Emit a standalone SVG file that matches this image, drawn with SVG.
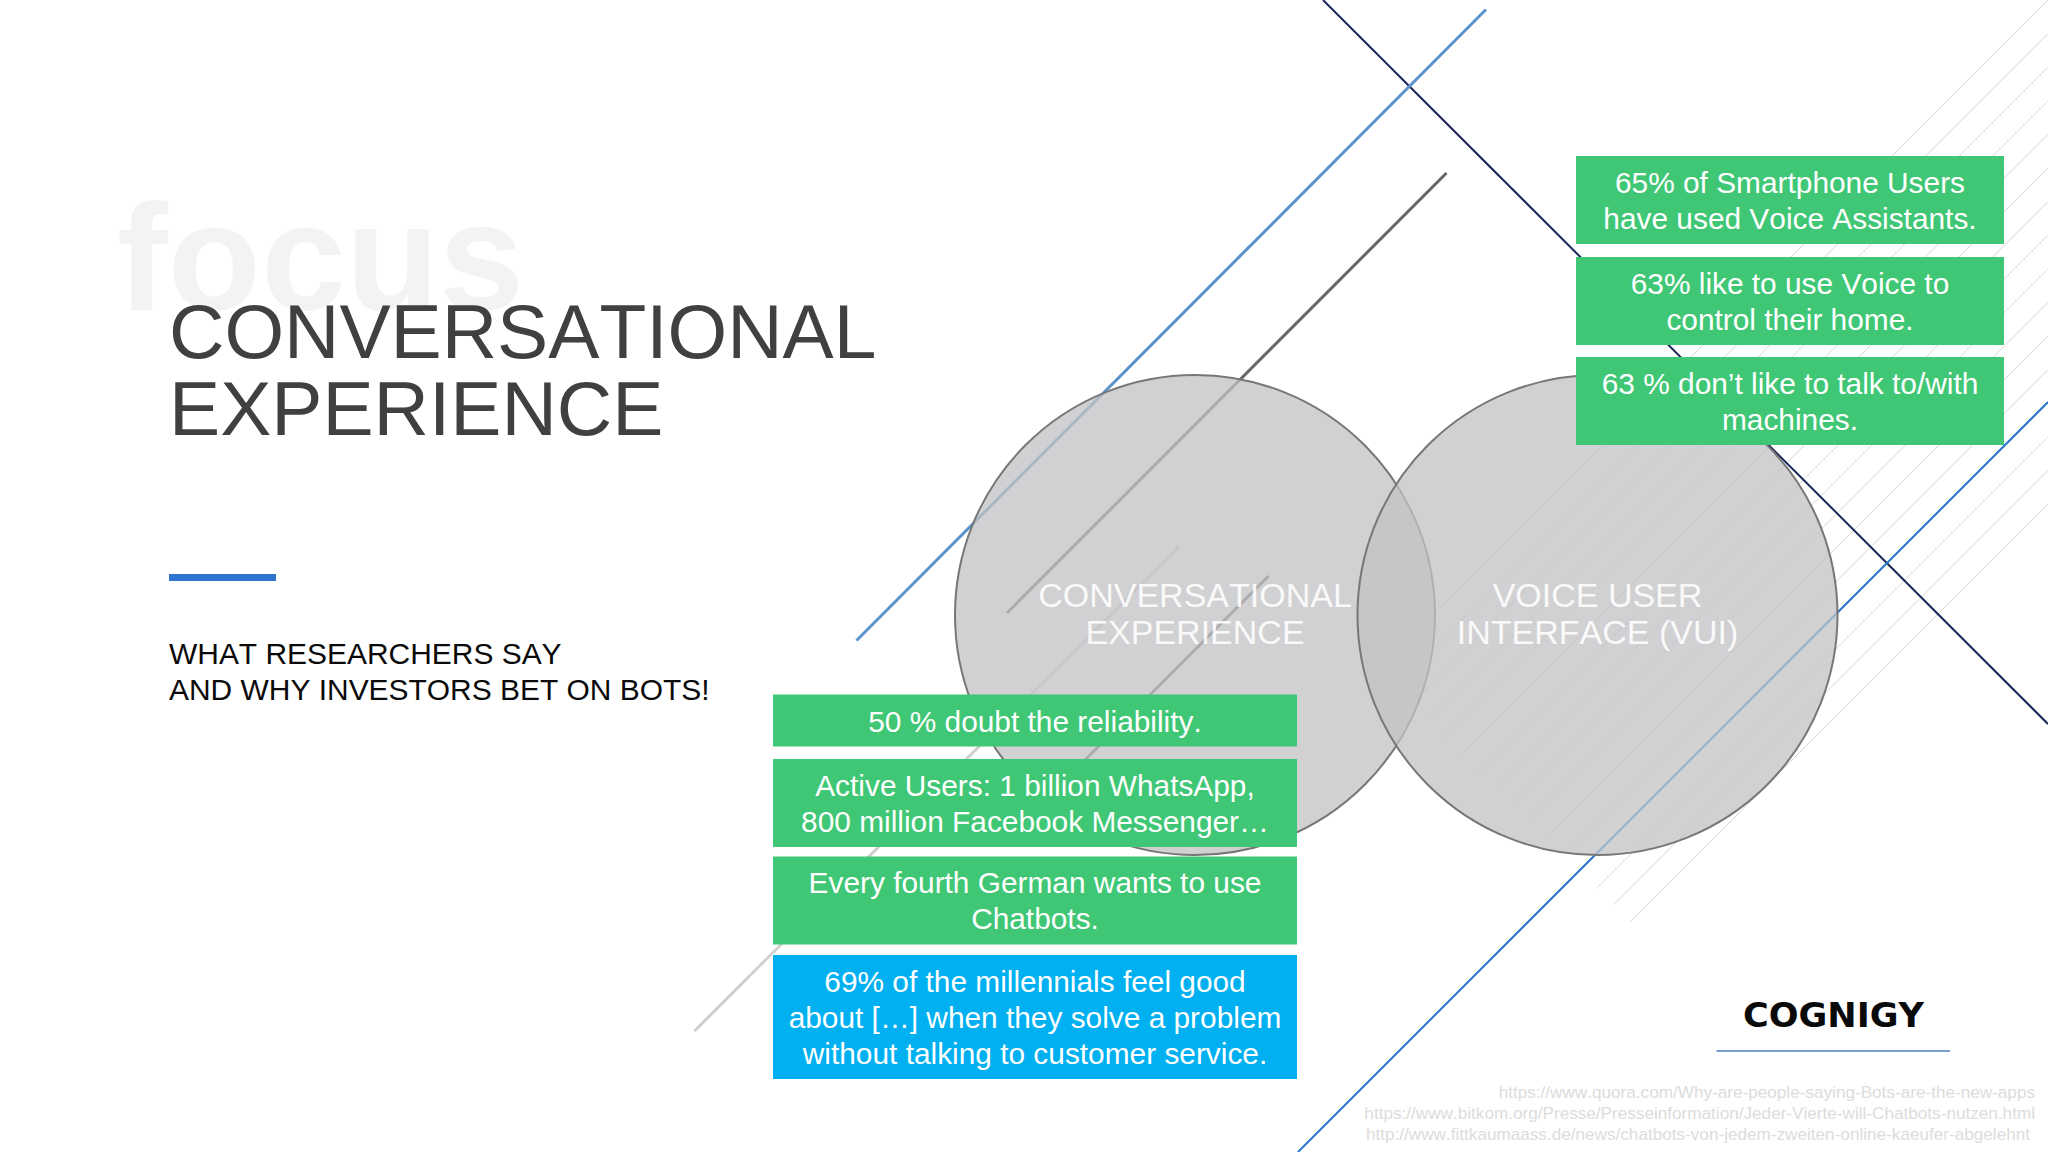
<svg xmlns="http://www.w3.org/2000/svg" width="2048" height="1152" viewBox="0 0 2048 1152">
<defs><style>
text{font-family:"Liberation Sans",Arial,sans-serif;font-kerning:none}
.box{fill:#40c776}
.blue{fill:#00b0f0}
.bt{fill:#fff;font-size:29.85px;text-anchor:middle}
.ct{fill:#fff;fill-opacity:.88;font-size:34px;text-anchor:middle}
.title{fill:#404040;font-size:76.700px}
.sub{fill:#0a0a0a;font-size:29.95px}
.url{fill:#dcdcdc;font-size:17.15px;text-anchor:end}
.circle{fill:#c2c2c5;fill-opacity:.76;stroke:#777;stroke-width:2}
.ln{fill:none;stroke-linecap:butt}
</style></defs>
<rect width="2048" height="1152" fill="#fff"/>
<g id="connectors">
<path class="ln" stroke="#d6d6d6" stroke-width="1" d="M1378.5 669.5L2048 0M1395.3 686.3L2048 33.6M1412.1 703.1L2048 67.2M1428.9 719.9L2048 100.8M1445.7 736.7L2048 134.4M1462.5 753.5L2048 168M1479.3 770.3L2048 201.6M1496.1 787.1L2048 235.2M1512.9 803.9L2048 268.8M1529.7 820.7L2048 302.4M1546.5 837.5L2048 336M1563.3 854.3L2048 369.6M1580.1 871.1L2048 403.2M1596.9 887.9L2048 436.8M1613.7 904.7L2048 470.4M1630.5 921.5L2048 504"/>
<line class="ln" x1="1323" y1="0" x2="2048" y2="724" stroke="#1c2458" stroke-width="2"/>
<line class="ln" x1="1486" y1="9.5" x2="856.5" y2="640.5" stroke="#5b93cc" stroke-width="3"/>
<line class="ln" x1="1446.5" y1="173" x2="1007" y2="613" stroke="#666" stroke-width="3"/>
<line class="ln" x1="1268.5" y1="576" x2="1080" y2="765" stroke="#666" stroke-width="3"/>
<line class="ln" x1="1179" y1="546.5" x2="694.5" y2="1031" stroke="#cfcfcf" stroke-width="3"/>
<line class="ln" x1="1298" y1="1152" x2="2048" y2="402" stroke="#2878c8" stroke-width="2"/>
</g>
<g id="focus"><text x="117" y="310" font-size="152.500" font-weight="700" fill="#f3f3f3">focus</text></g>
<g id="title"><text class="title" x="169" y="358">CONVERSATIONAL</text><text class="title" x="169" y="435">EXPERIENCE</text></g>
<g id="accent"><rect x="169" y="574" width="107" height="7" fill="#2e75d0"/></g>
<g id="subtitle"><text class="sub" x="169" y="664">WHAT RESEARCHERS SAY</text><text class="sub" x="169" y="700">AND WHY INVESTORS BET ON BOTS!</text></g>
<g id="circle-cx"><circle class="circle" cx="1195" cy="615" r="240"/><text class="ct" x="1195" y="607">CONVERSATIONAL</text><text class="ct" x="1195" y="643.500">EXPERIENCE</text></g>
<g id="circle-vui"><circle class="circle" cx="1597.5" cy="615" r="240"/><text class="ct" x="1597.5" y="607">VOICE USER</text><text class="ct" x="1597.5" y="643.500">INTERFACE (VUI)</text></g>
<g id="r1"><rect class="box" x="1576" y="156" width="428" height="88"/><text class="bt" x="1790" y="193">65% of Smartphone Users</text><text class="bt" x="1790" y="228.500">have used Voice Assistants.</text></g>
<g id="r2"><rect class="box" x="1576" y="257" width="428" height="88"/><text class="bt" x="1790" y="294">63% like to use Voice to</text><text class="bt" x="1790" y="330">control their home.</text></g>
<g id="r3"><rect class="box" x="1576" y="357" width="428" height="88"/><text class="bt" x="1790" y="394">63 % don’t like to talk to/with</text><text class="bt" x="1790" y="430">machines.</text></g>
<g id="l1"><rect class="box" x="773" y="694.500" width="524" height="52"/><text class="bt" x="1035" y="732">50 % doubt the reliability.</text></g>
<g id="l2"><rect class="box" x="773" y="759" width="524" height="88"/><text class="bt" x="1035" y="796">Active Users: 1 billion WhatsApp,</text><text class="bt" x="1035" y="832">800 million Facebook Messenger…</text></g>
<g id="l3"><rect class="box" x="773" y="856.500" width="524" height="88"/><text class="bt" x="1035" y="893">Every fourth German wants to use</text><text class="bt" x="1035" y="929">Chatbots.</text></g>
<g id="l4"><rect class="blue" x="773" y="955" width="524" height="124"/><text class="bt" x="1035" y="992">69% of the millennials feel good</text><text class="bt" x="1035" y="1028">about […] when they solve a problem</text><text class="bt" x="1035" y="1064">without talking to customer service.</text></g>
<g id="logo"><text x="1743" y="1027" font-size="34" font-weight="700" style="font-family:'DejaVu Sans',sans-serif" fill="#0a0a0a" textLength="181" lengthAdjust="spacingAndGlyphs">COGNIGY</text><line x1="1716.500" y1="1051" x2="1950" y2="1051" stroke="#4a7fc0" stroke-width="1.500"/></g>
<g id="sources"><text class="url" x="2035" y="1098">https://www.quora.com/Why-are-people-saying-Bots-are-the-new-apps</text><text class="url" x="2035" y="1119">https://www.bitkom.org/Presse/Presseinformation/Jeder-Vierte-will-Chatbots-nutzen.html</text><text class="url" x="2030" y="1140">http://www.fittkaumaass.de/news/chatbots-von-jedem-zweiten-online-kaeufer-abgelehnt</text></g>
</svg>
